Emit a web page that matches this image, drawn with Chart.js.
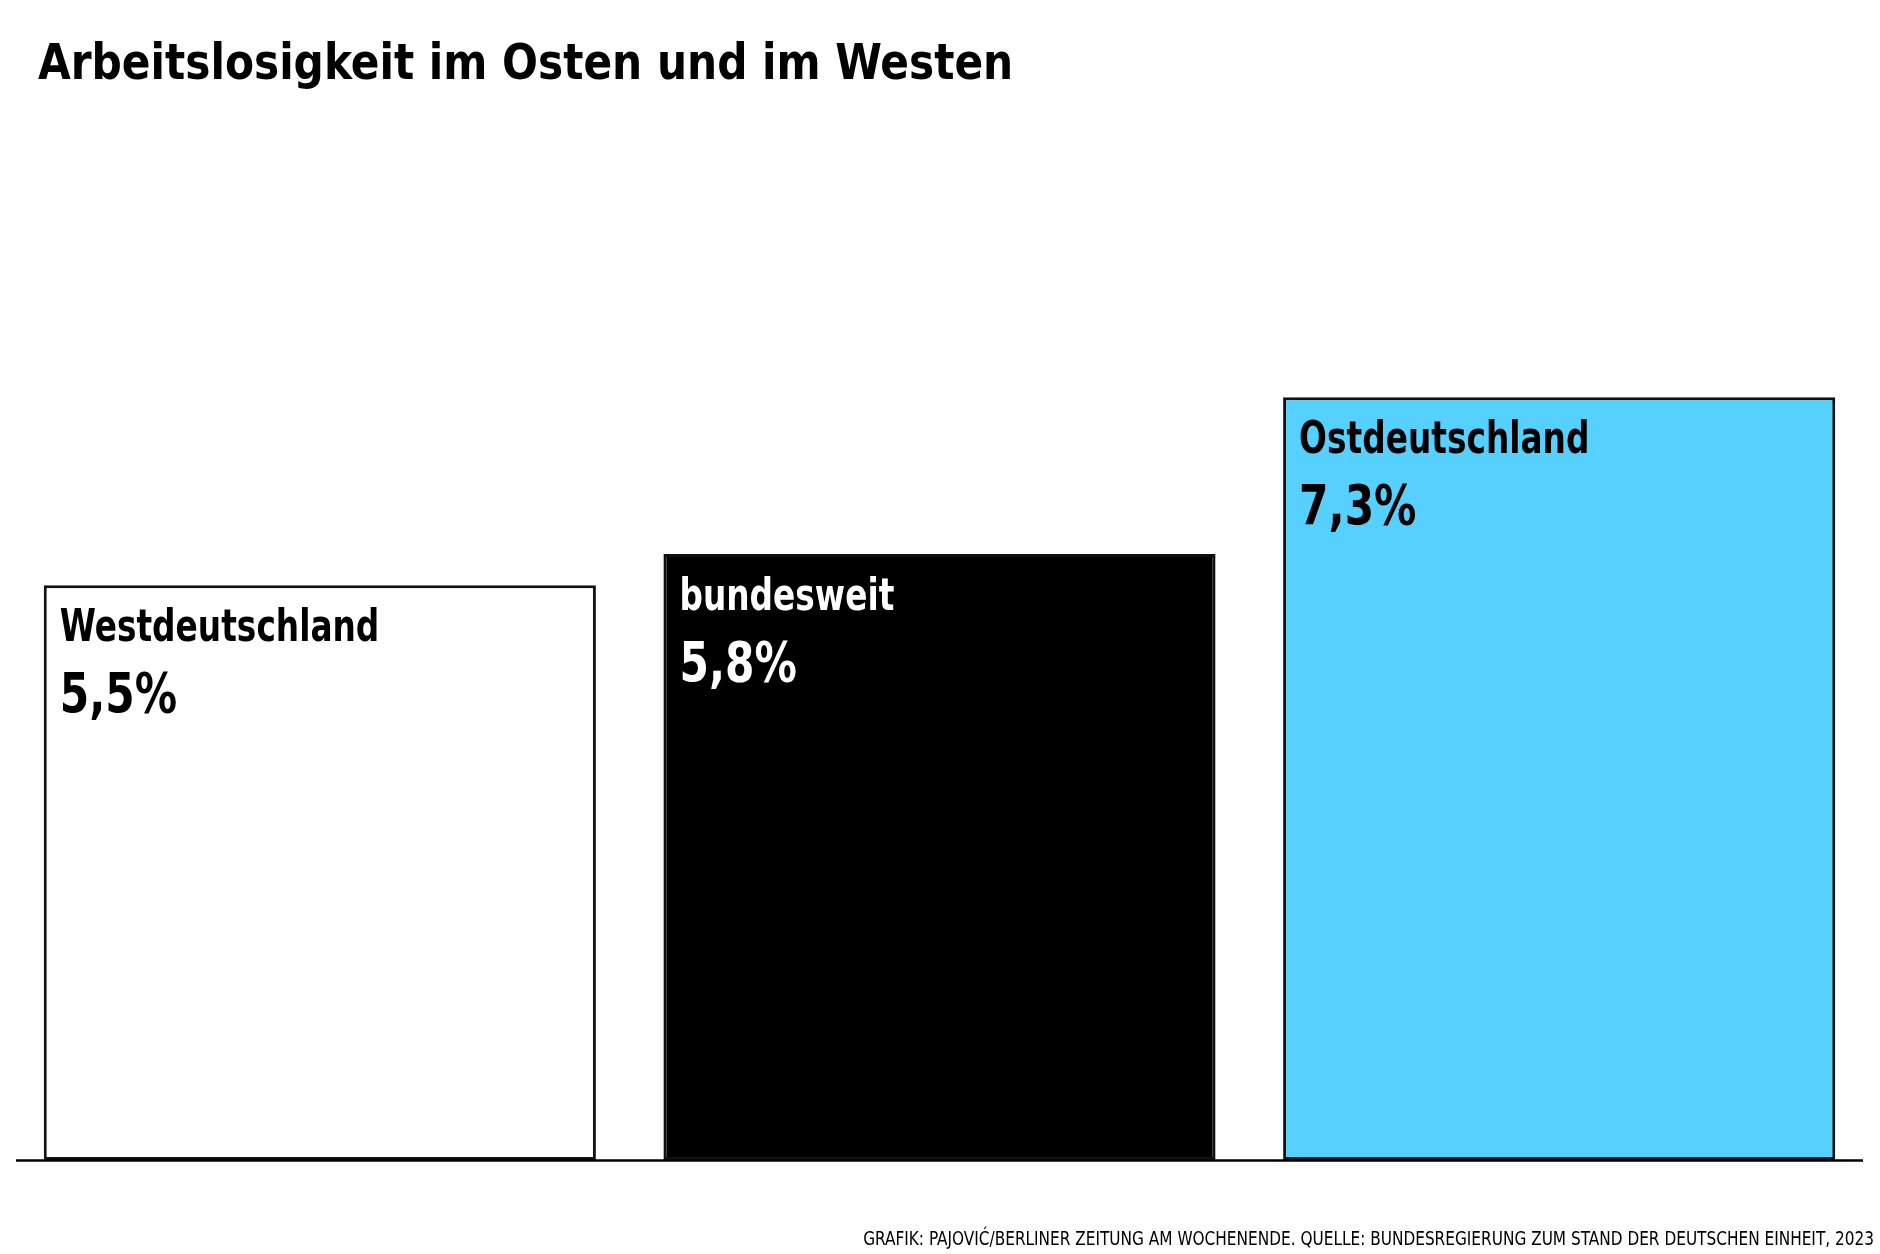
<!DOCTYPE html>
<html>
<head>
<meta charset="utf-8">
<script src="https://cdn.jsdelivr.net/npm/chart.js@4"></script>
<style>
  body { margin: 0; background: #fff; }
  #wrap { width: 1880px; height: 1254px; }
</style>
</head>
<body>
<div id="wrap"><canvas id="chart" width="1880" height="1254"></canvas></div>
<script>
// Arbeitslosenquote 2023, Werte aus der Grafik
const categories = ["Westdeutschland", "bundesweit", "Ostdeutschland"];
const rates = [5.5, 5.8, 7.3];
const barColors = ["#ffffff", "#000000", "#55d0ff"];
const textColors = ["#000000", "#ffffff", "#000000"];

const titleText = "Arbeitslosigkeit im Osten und im Westen";
const sourceText = "GRAFIK: PAJOVIĆ/BERLINER ZEITUNG AM WOCHENENDE. QUELLE: BUNDESREGIERUNG ZUM STAND DER DEUTSCHEN EINHEIT, 2023";

const FONT = '"DejaVu Sans Condensed", "Liberation Sans Narrow", sans-serif';

// no narrow font available -> squeeze text horizontally
function drawText(ctx, text, x, y, font, squeeze, align) {
  ctx.save();
  ctx.font = font;
  ctx.textAlign = align || "left";
  ctx.translate(x, y);
  ctx.scale(squeeze, 1);
  ctx.fillText(text, 0, 0);
  ctx.restore();
}

// labels inside the bars, baseline line, title + source
const decorations = {
  id: "decorations",
  afterDatasetsDraw(chart) {
    const ctx = chart.ctx;
    const meta = chart.getDatasetMeta(0);
    const y0 = chart.scales.y.getPixelForValue(0);

    ctx.save();
    // baseline
    ctx.strokeStyle = "#000";
    ctx.lineWidth = 2.5;
    ctx.beginPath();
    ctx.moveTo(16, y0 + 0.5);
    ctx.lineTo(1863, y0 + 0.5);
    ctx.stroke();

    ctx.textBaseline = "alphabetic";
    meta.data.forEach((bar, i) => {
      const left = bar.x - bar.width / 2 + 16;
      ctx.fillStyle = textColors[i];
      drawText(ctx, categories[i], left, bar.y + 56, "bold 45px " + FONT, 0.81);
      drawText(ctx, rates[i].toFixed(1).replace(".", ",") + "%", left, bar.y + 127, "bold 56px " + FONT, 0.84);
    });

    // title
    ctx.fillStyle = "#000";
    drawText(ctx, titleText, 38, 79, "bold 50px " + FONT, 0.94);

    // source
    drawText(ctx, sourceText, 1874, 1245, "19px " + FONT, 0.897, "right");
    ctx.restore();
  }
};

new Chart(document.getElementById("chart"), {
  type: "bar",
  data: {
    labels: categories,
    datasets: [{
      data: rates,
      backgroundColor: barColors,
      borderColor: "#111111",
      borderWidth: 3,
      borderSkipped: false,
      barPercentage: 0.891,
      categoryPercentage: 1
    }]
  },
  options: {
    responsive: false,
    animation: false,
    layout: { padding: { left: 10, right: 11, top: 324, bottom: 94 } },
    plugins: {
      legend: { display: false },
      tooltip: { enabled: false },
      title: { display: false }
    },
    scales: {
      x: { display: false },
      y: { display: false, min: 0, max: 8 }
    }
  },
  plugins: [decorations]
});
</script>
</body>
</html>
